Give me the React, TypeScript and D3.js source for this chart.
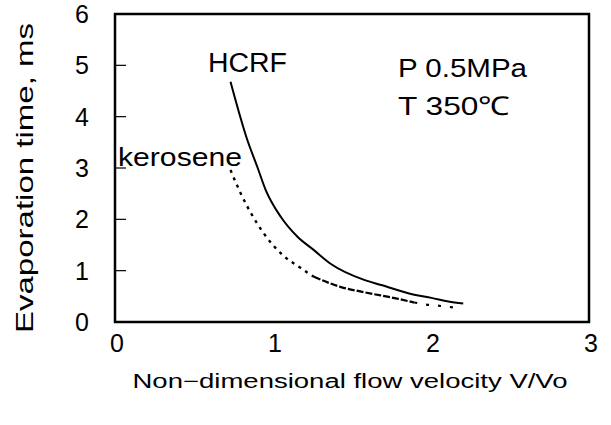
import React from "react";
import * as d3 from "d3";

const hcrfX = [0.731, 0.837, 0.901, 0.954, 1.049, 1.155, 1.259, 1.367, 1.577, 1.685, 1.894, 2.003, 2.11, 2.204];
const hcrfY = [4.68, 3.55, 3.02, 2.57, 2.05, 1.66, 1.40, 1.13, 0.82, 0.72, 0.53, 0.47, 0.40, 0.36];
const keroX = [0.731, 0.795, 0.941, 1.049, 1.176, 1.259, 1.431, 1.577, 1.793, 1.894, 1.97, 2.07, 2.15];
const keroY = [2.96, 2.51, 1.73, 1.34, 1.05, 0.88, 0.68, 0.58, 0.45, 0.38, 0.34, 0.31, 0.28];
const xTicks = [0, 1, 2, 3];
const yTicks = [0, 1, 2, 3, 4, 5, 6];

const W = 611, H = 425;
const L = 115, R = 589, T = 14, B = 322;
const FONT = "'Liberation Sans', Arial, sans-serif";

export default function App() {
  const x = d3.scaleLinear().domain([0, 3]).range([L, R]);
  const y = d3.scaleLinear().domain([0, 6]).range([B, T]);
  const line = d3.line<[number, number]>().x(d => x(d[0])).y(d => y(d[1])).curve(d3.curveMonotoneX);
  const hc = hcrfX.map((v, i) => [v, hcrfY[i]] as [number, number]);
  const ke = keroX.map((v, i) => [v, keroY[i]] as [number, number]);
  const keUpper = ke.filter(d => d[0] <= 1.26);
  const keMid = ke.filter(d => d[0] >= 1.259 && d[0] <= 1.894);
  const keTail = ke.filter(d => d[0] >= 1.894);
  return (
    <div style={{ position: "absolute", left: 0, top: 0 }}>
      <svg width={W} height={H} style={{ display: "block", background: "#fff" }} fontFamily={FONT}>
        <rect x={L} y={T} width={R - L} height={B - T} fill="none" stroke="#000" strokeWidth={2.5} />
        {yTicks.filter(t => t > 0 && t < 6).map(t => (
          <line key={t} x1={L} x2={L + 11} y1={y(t)} y2={y(t)} stroke="#000" strokeWidth={1.2} />
        ))}
        {yTicks.map(t => (
          <text key={t} x={89} y={y(t)} dy="0.36em" textAnchor="end" fontSize={25}>{t}</text>
        ))}
        {xTicks.map(t => (
          <text key={t} x={x(t) + 2} y={352} textAnchor="middle" fontSize={25}>{t}</text>
        ))}
        <text x={350} y={388} textAnchor="middle" fontSize={20} textLength={435} lengthAdjust="spacingAndGlyphs">Non−dimensional flow velocity V/Vo</text>
        <text transform={`translate(33,178) rotate(-90)`} textAnchor="middle" fontSize={24} textLength={310} lengthAdjust="spacingAndGlyphs">Evaporation time, ms</text>
        <path d={line(hc) || ""} fill="none" stroke="#000" strokeWidth={2} />
        <path d={line(keUpper) || ""} fill="none" stroke="#000" strokeWidth={2.4} strokeDasharray="3,5" />
        <path d={line(keMid) || ""} fill="none" stroke="#000" strokeWidth={2.2} strokeDasharray="7,2" />
        <path d={line(keTail) || ""} fill="none" stroke="#000" strokeWidth={2.2} strokeDasharray="3,9" />
        <text x={208} y={72} fontSize={27} textLength={79} lengthAdjust="spacingAndGlyphs">HCRF</text>
        <text x={118} y={166} fontSize={25} textLength={124} lengthAdjust="spacingAndGlyphs">kerosene</text>
        <text x={398} y={77} fontSize={26} textLength={129} lengthAdjust="spacingAndGlyphs">P 0.5MPa</text>
        <text x={398} y={115} fontSize={26} textLength={112} lengthAdjust="spacingAndGlyphs">T 350℃</text>
      </svg>
    </div>
  );
}
